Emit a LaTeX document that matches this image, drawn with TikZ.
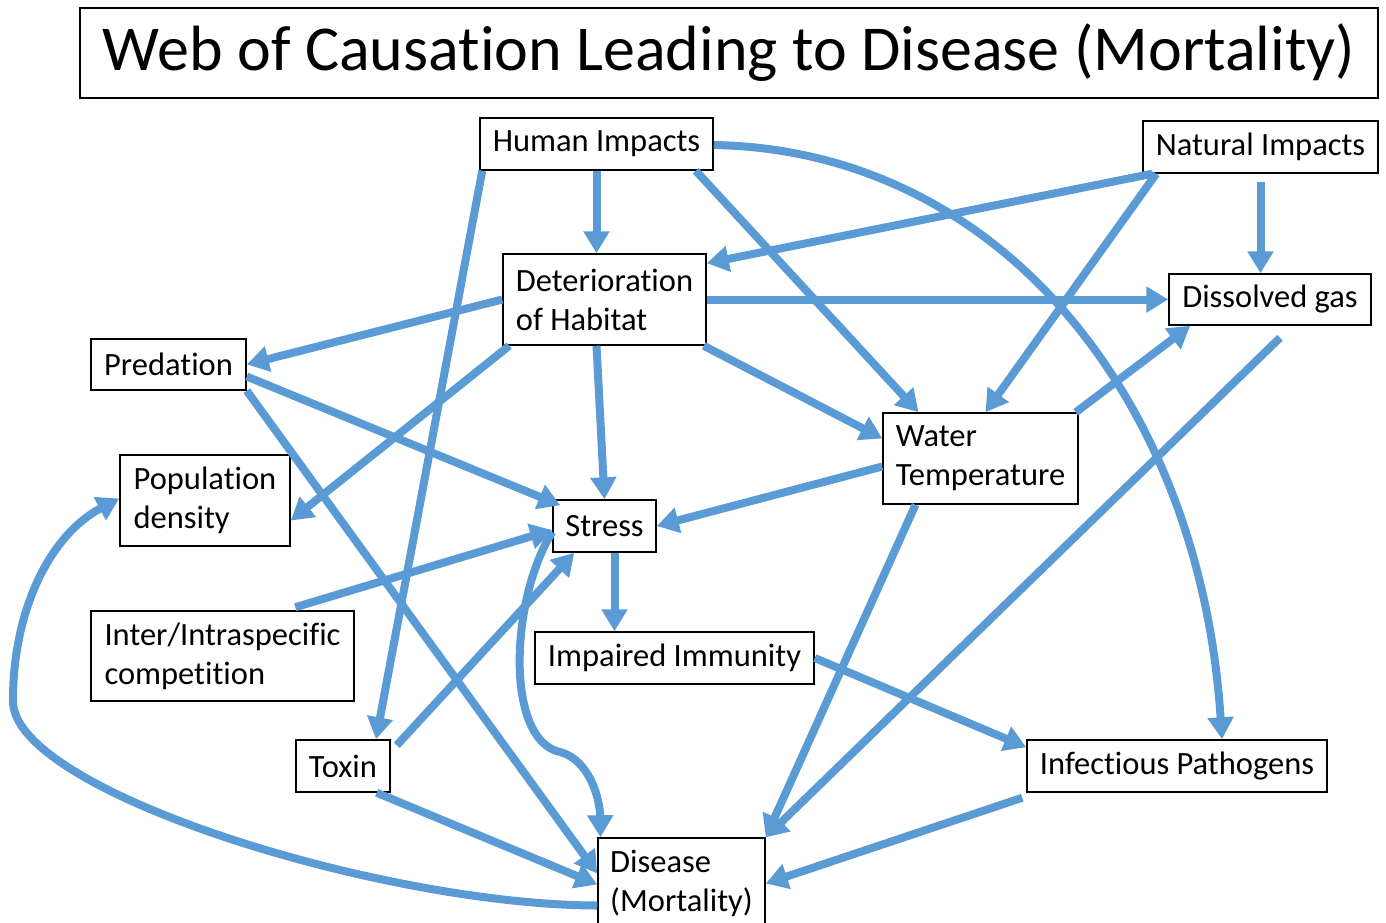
\documentclass[tikz,border=0pt]{standalone}
\usepackage{fontspec}
\setmainfont{Carlito}[Ligatures={NoCommon}]
\usepackage{tikz}
\usetikzlibrary{arrows.meta, positioning}
\tikzset{>=latex}
\usepackage{xcolor}
\definecolor{webblue}{RGB}{91,155,213}
\tikzstyle{box}=[draw=black,line width=1.5pt,align=left,inner sep=0pt,font=\fontsize{32.5}{39}\selectfont]
\tikzstyle{link}=[draw=webblue,line width=8pt,-{Triangle[length=22pt,width=25pt]}]

\begin{document}
\begin{tikzpicture}[x=1pt,y=-1pt]
		\useasboundingbox (0,0) rectangle (1386,923);
		\node[draw=black, line width=1.5pt, inner sep=0pt, minimum width=1298, minimum height=90, font=\fontsize{64}{76}\selectfont] (title) at (729,53) {Web of Causation Leading to Disease (Mortality)};
		
		\node[box, minimum width=233, minimum height=52] (hum) at (596.5,144) {Human Impacts};
		\node[box, minimum width=235, minimum height=52] (nat) at (1260.5,147) {Natural Impacts};
		\node[box, minimum width=203, minimum height=91] (det) at (604.5,299.5) {Deterioration\\of Habitat};
		\node[box, minimum width=202, minimum height=51] (gas) at (1270,299.5) {Dissolved gas};
		\node[box, minimum width=155, minimum height=51] (pred) at (168.5,364.5) {Predation};
		\node[box, minimum width=195, minimum height=91] (wat) at (980.5,458.5) {Water\\Temperature};
		\node[box, minimum width=170, minimum height=91] (pop) at (205,500.5) {Population\\density};
		\node[box, minimum width=103, minimum height=52] (str) at (604.5,526) {Stress};
		\node[box, minimum width=263, minimum height=90] (comp) at (222.5,656) {Inter/Intraspecific\\competition};
		\node[box, minimum width=279, minimum height=52] (imm) at (674.5,658) {Impaired Immunity};
		\node[box, minimum width=94, minimum height=52] (tox) at (343,766) {Toxin};
		\node[box, minimum width=300, minimum height=52] (inf) at (1177,766) {Infectious Pathogens};
		\node[box, minimum width=167, minimum height=91] (dis) at (681.5,883.5) {Disease\\(Mortality)};
		
		% from human impacts
		\draw[link] (hum.south) -- (hum.south |- det.north);
		\draw[link] ([xshift=3pt]hum.south west) -- ([xshift=33pt]tox.north);
		\draw[link] ([xshift=-18pt]hum.south east) -- ([xshift=-62pt]wat.north);
		\draw[link] ([yshift=-1pt]hum.east) .. controls (1000,150) and (1200,400) .. ([xshift=45pt]inf.north);
		
		% from natural impacts
		\draw[link] ([xshift=10pt]nat.south west) -- ([yshift=-10pt]det.north east);
		\draw[link] ([xshift=14pt]nat.south west) -- ([xshift=5pt]wat.north);
		\draw[link] ([yshift=-8pt]nat.south) -- (nat.south |- gas.north);
		
		% from habitat
		\draw[link] (det.east) -- (gas.west);
		\draw[link] (det.west) -- (pred.east);
		\draw[link] ([xshift=7pt]det.south west) -- ([yshift=-20pt]pop.east);
		\draw[link] ([xshift=-8pt]det.south) -- (str.north);
		\draw[link] ([xshift=-3pt]det.south east) -- ([yshift=20pt]wat.west);
		
		% from water temperature and gas
		\draw[link] ([xshift=-3pt]wat.north east) -- ([xshift=22pt]gas.south west);
		\draw[link] ([xshift=10pt,yshift=-12pt]gas.south) -- (dis.north east);
		\draw[link] ([xshift=-65pt]wat.south) -- (dis.north east);
		\draw[link] ([yshift=-8pt]wat.west) -- (str.east);
		
		% into stress
		\draw[link] ([yshift=-12pt]pred.east) -- ([xshift=8pt,yshift=-6pt]str.north west);
		\draw[link] ([xshift=205pt,yshift=3pt]comp.north west) -- ([yshift=-4pt]str.west);
		\draw[link] ([xshift=6pt,yshift=-6pt]tox.north east) -- ([xshift=22pt]str.south west);
		\draw[link] ([xshift=10pt]str.south) -- ([xshift=10pt]str.south |- imm.north);
		
		% into disease
		\draw[link] (pred.south east) -- ([yshift=10pt]dis.west);
		\draw[link] ([xshift=-14pt]tox.south east) -- ([yshift=-1pt]dis.west);
		\draw[link] ([yshift=-6pt]str.west) .. controls (510,600) and (505,740) .. (560,752) .. controls (590,760) and (600,800) .. ([xshift=-81pt]dis.north);
		\draw[link] ([xshift=-4pt,yshift=-5pt]inf.south west) -- (dis.east);
		\draw[link] (imm.east) -- ([yshift=-8pt]inf.north west);
		
		% feedback to population density
		\draw[link] ([yshift=-22pt]dis.west) .. controls (380,905) and (10,790) .. (13,700) .. controls (13,610) and (50,535) .. ([yshift=2pt]pop.west);
	\end{tikzpicture}
\end{document}
